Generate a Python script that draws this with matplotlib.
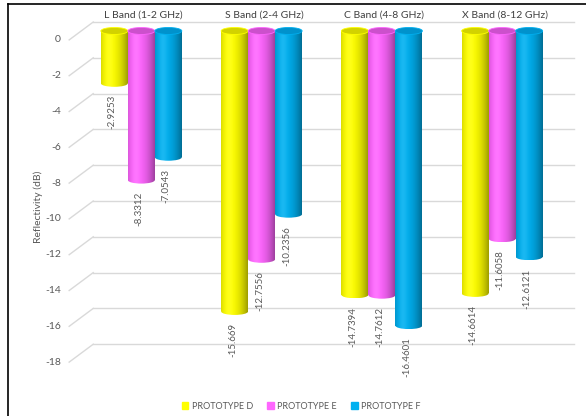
import numpy as np
import matplotlib.pyplot as plt
from matplotlib.patches import Rectangle, Ellipse
from matplotlib.lines import Line2D
from matplotlib.colors import to_rgb

# reflectivity per band for each prototype (dB)
bands = ['L Band (1-2 GHz)', 'S Band (2-4 GHz)', 'C Band (4-8 GHz)', 'X Band (8-12 GHz)']
series = ['PROTOTYPE D', 'PROTOTYPE E', 'PROTOTYPE F']
proto_d = [-2.9253, -15.669, -14.7394, -14.6614]
proto_e = [-8.3312, -12.7556, -14.7612, -11.6058]
proto_f = [-7.0543, -10.2356, -16.4601, -12.6121]
colors = ['#FFFF00', '#FF66FF', '#00B0F0']
top_colors = ['#D2D200', '#CC50CC', '#0092CC']
yticks = np.arange(0, -19, -2)

plt.rcParams['font.family'] = 'Lato'
txt = '#595959'
grid = '#D9D9D9'

fig = plt.figure(figsize=(5.86, 4.16), dpi=100)
ax = fig.add_axes([0, 0, 1, 1])
ax.set_xlim(-1.175, 3.697)
ax.set_ylim(-21.51, 1.73)
ax.axis('off')

# fake 3d box: bars sit mid-depth, back wall is shifted up/right
dx, dy = 0.1, 0.5
floor_l, floor_r = -0.5, 3.5

for v in yticks:
    ax.plot([floor_l + dx, floor_r + dx], [v + dy, v + dy], color=grid, lw=1.0, zorder=1)
    ax.plot([floor_l - dx, floor_l + dx], [v - dy, v + dy], color=grid, lw=1.0, zorder=1)
    ax.annotate(str(int(v)), (floor_l - dx, v - dy), xytext=(-6, 0), textcoords='offset points',
                ha='right', va='center', fontsize=7.5, color=txt)

x = np.arange(len(bands))
w = 0.2244
cap = 0.39  # height of the cylinder end ellipses, in dB

# horizontal shading across a cylinder
t = np.linspace(0, 1, 64)
shade = np.where(t < 0.3, 1 - 0.14 * ((t - 0.3) / 0.3) ** 2, 1 - 0.38 * ((t - 0.3) / 0.7) ** 2)
hl = 0.10 * np.exp(-((t - 0.3) / 0.15) ** 2)

for j, vals in enumerate([proto_d, proto_e, proto_f]):
    base = np.array(to_rgb(colors[j]))
    img = base[None, :] * shade[:, None]
    img = img + hl[:, None] * (1 - img)
    img = img[None, :, :]
    z = 3 + j
    bars = ax.bar(x + (j - 1) * w, vals, w, color='none', edgecolor='none', zorder=z)
    for bar, v in zip(bars, vals):
        x0 = bar.get_x()
        xc = x0 + w / 2
        ext = (x0, x0 + w, v - cap / 2, 0)
        body = ax.imshow(img, extent=ext, aspect='auto', interpolation='bilinear', zorder=z)
        body.set_clip_path(bar)
        foot = Ellipse((xc, v), w, cap, facecolor='none', edgecolor='none', zorder=z)
        ax.add_patch(foot)
        im2 = ax.imshow(img, extent=ext, aspect='auto', interpolation='bilinear', zorder=z)
        im2.set_clip_path(foot)
        ax.add_patch(Ellipse((xc, 0), w, cap, facecolor=top_colors[j],
                             edgecolor=colors[j], lw=0.6, zorder=z + 0.5))
        ax.annotate(str(v), (xc, v), xytext=(-1.5, -8.5), textcoords='offset points',
                    rotation=90, ha='center', va='top', fontsize=7, color=txt)

for xi, name in zip(x, bands):
    ax.text(xi + 0.02, 0.9, name, ha='center', va='center', fontsize=7.5, color='#404040')

ax.text(floor_l - 0.36, -9.3 - dy, 'Reflectivity (dB)', rotation=90, ha='center', va='center',
        fontsize=7.5, color=txt)

handles = [Rectangle((0, 0), 1, 1, color=c) for c in colors]
fig.legend(handles, series, loc='center', bbox_to_anchor=(0.514, 0.024), ncol=3, frameon=False,
           fontsize=6.5, handlelength=0.7, handleheight=0.7, handletextpad=0.4,
           columnspacing=1.6, labelcolor=txt)

# chart frame (left and top edges)
fig.add_artist(Line2D([8 / 586, 8 / 586], [0, 1 - 4 / 416], color='black', lw=1.2))
fig.add_artist(Line2D([8 / 586, 1], [1 - 4 / 416, 1 - 4 / 416], color='black', lw=1.2))

fig.savefig('out.png', dpi=100)
